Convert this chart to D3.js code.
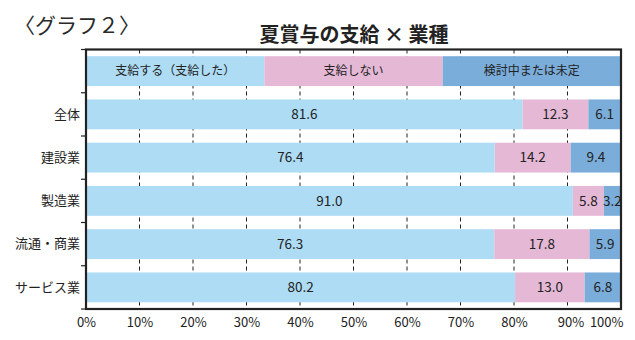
<!DOCTYPE html>
<html><head><meta charset="utf-8">
<script src="https://cdn.jsdelivr.net/npm/d3@7"></script>
<style>body{margin:0;background:#fff}svg{display:block;font-family:"Noto Sans CJK JP","Noto Sans",sans-serif}</style>
</head><body><svg id="c" width="635" height="340"></svg>
<script>
const categories = ["全体","建設業","製造業","流通・商業","サービス業"];
const seriesNames = ["支給する（支給した）","支給しない","検討中または未定"];
const paid = [81.6, 76.4, 91.0, 76.3, 80.2];
const notPaid = [12.3, 14.2, 5.8, 17.8, 13.0];
const undecided = [6.1, 9.4, 3.2, 5.9, 6.8];
const tickLabels = ["0%","10%","20%","30%","40%","50%","60%","70%","80%","90%","100%"];
const colors = ["#aedcf5","#e5b9d6","#7badda"];

const svg = d3.select("#c");
const L = 86, R = 621, T = 49.5, B = 309;
const x = d3.scaleLinear().domain([0,100]).range([L,R]);
const rows = ["__legend__", ...categories];
const y = d3.scaleBand().domain(rows).range([T,B]).paddingInner(0.31).paddingOuter(0.155);

// titles
svg.append("text").attr("x",14).attr("y",33).attr("font-size",21).attr("fill","#2a2a2a").text("〈グラフ２〉");
svg.append("text").attr("x",354).attr("y",42).attr("text-anchor","middle").attr("font-size",20).attr("font-weight","bold").attr("fill","#222").text("夏賞与の支給 × 業種");

// gridlines
const grid = d3.range(10,100,10);
svg.append("g").selectAll("line").data(grid).join("line")
  .attr("x1",d=>x(d)).attr("x2",d=>x(d)).attr("y1",T).attr("y2",B)
  .attr("stroke","#222").attr("stroke-width",1).attr("stroke-dasharray","4,3");

// legend row (equal thirds)
const lg = svg.append("g");
seriesNames.forEach((n,i)=>{
  const x0 = x(100*i/3), x1 = x(100*(i+1)/3);
  lg.append("rect").attr("x",x0).attr("y",y("__legend__")).attr("width",x1-x0).attr("height",y.bandwidth()).attr("fill",colors[i]);
  lg.append("text").attr("x",(x0+x1)/2).attr("y",y("__legend__")+y.bandwidth()/2).attr("dy","0.35em")
    .attr("text-anchor","middle").attr("font-size",12).attr("fill","#222").text(n);
});

// stacked bars
const data = categories.map((c,i)=>({cat:c, v:[paid[i],notPaid[i],undecided[i]]}));
const bars = svg.append("g");
data.forEach(d=>{
  let acc = 0;
  d.v.forEach((v,j)=>{
    const x0 = x(acc), x1 = x(Math.min(100, acc+v));
    bars.append("rect").attr("x",x0).attr("y",y(d.cat)).attr("width",x1-x0).attr("height",y.bandwidth()).attr("fill",colors[j]);
    bars.append("text").attr("x",(x0+x1)/2).attr("y",y(d.cat)+y.bandwidth()/2).attr("dy","0.35em")
      .attr("text-anchor","middle").attr("font-size",13.5).attr("fill","#222").text(v.toFixed(1));
    acc += v;
  });
});

// axes
const yAxis = d3.axisLeft(y).tickSize(5).tickFormat(d=>d==="__legend__"?"":d);
const gy = svg.append("g").attr("transform",`translate(${L},0)`).call(yAxis);
gy.select(".domain").remove();
gy.selectAll(".tick line").remove();
gy.selectAll(".tick text").attr("font-size",13).attr("fill","#222").attr("x",-6);
gy.attr("font-family",null);
// boundary ticks on left
const bounds = rows.map(r=>y(r)-y.step()*y.paddingInner()/2).concat([B]);
svg.append("g").selectAll("line").data(bounds).join("line")
  .attr("x1",L-5).attr("x2",L).attr("y1",d=>d).attr("y2",d=>d).attr("stroke","#222").attr("stroke-width",1.2);

const xAxis = d3.axisBottom(x).tickValues(d3.range(0,101,10)).tickSize(0).tickFormat((d,i)=>tickLabels[i]);
const gx = svg.append("g").attr("transform",`translate(0,${B})`).call(xAxis);
gx.select(".domain").remove();
gx.attr("font-family",null);
gx.selectAll(".tick text").attr("font-size",13).attr("fill","#222").attr("dy","1.15em");
gx.selectAll(".tick").filter(d=>d===100).select("text").attr("text-anchor","end").attr("x",2);
gx.selectAll(".tick").filter(d=>d===90).select("text").attr("x",3);

// frame
svg.append("rect").attr("x",L).attr("y",T).attr("width",R-L).attr("height",B-T)
  .attr("fill","none").attr("stroke","#222").attr("stroke-width",2.2);
</script></body></html>
